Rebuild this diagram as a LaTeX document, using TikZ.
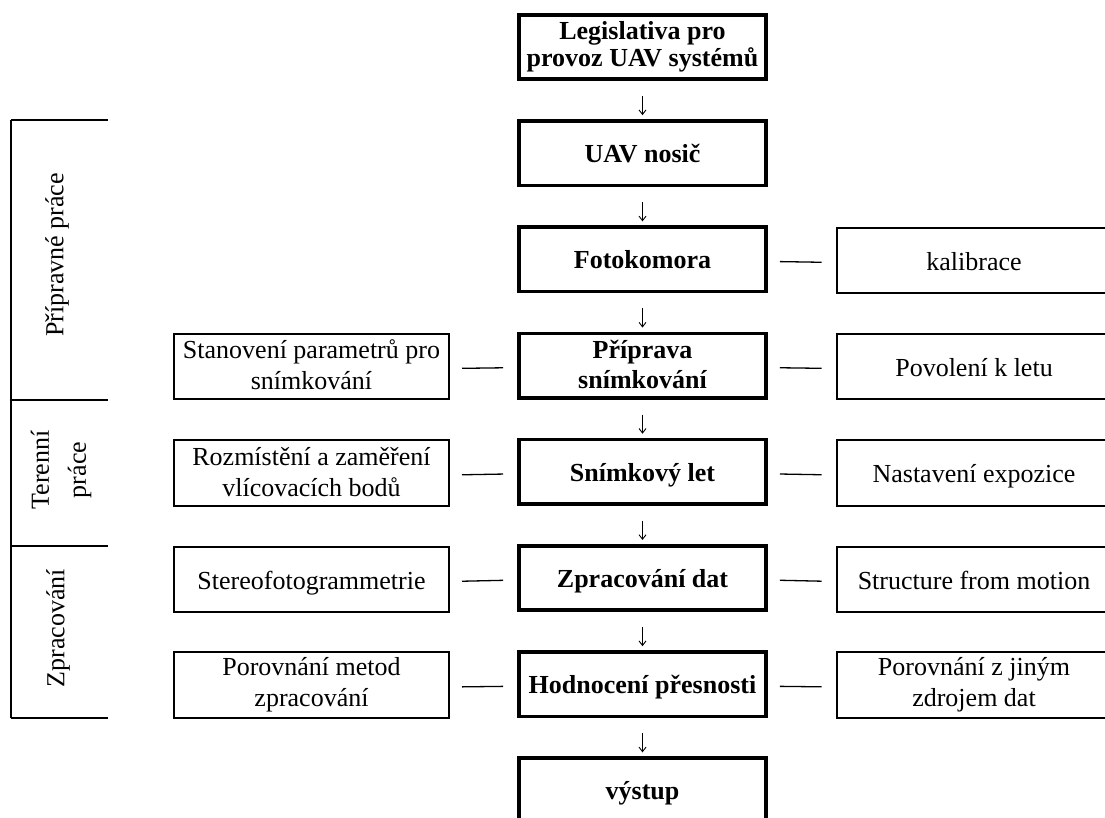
\documentclass[tikz,border=0pt]{standalone}
\usepackage{fontspec}
\setmainfont{Liberation Serif}
\usetikzlibrary{arrows.meta}
\newcommand{\onestrut}{\rule[-6pt]{0pt}{31pt}}
\newcommand{\twostrut}{\rule[-3pt]{0pt}{31pt}}
\tikzset{
  mainbox/.style={draw, line width=3.6pt, minimum width=247pt, minimum height=64.5pt, align=center, inner sep=0pt, font=\fontsize{26}{28}\selectfont\bfseries},
  sidebox/.style={draw, line width=2pt, minimum width=275pt, minimum height=65.5pt, align=center, inner sep=0pt, font=\fontsize{26}{31}\selectfont},
  oneline/.style={execute at begin node=\onestrut, execute at end node=\onestrut},
  twoline/.style={execute at begin node=\twostrut, execute at end node=\twostrut},
  flow/.style={line width=0.9pt, -{Straight Barb[length=4.5pt,width=7pt]}, shorten <=15pt, shorten >=4pt},
  conn/.style={line width=1.3pt, shorten <=12pt, shorten >=14pt, transform canvas={yshift=-2pt}},
  bracket/.style={line width=2pt},
  phase/.style={rotate=90, align=center, inner sep=0pt, font=\fontsize{26}{37}\selectfont}
}
\begin{document}
\begin{tikzpicture}[x=1pt,y=-1pt]
\useasboundingbox (0,0) rectangle (1105,818);
\clip (0,0) rectangle (1105,818);
% main column
\node[mainbox, twoline, font=\fontsize{26}{27}\selectfont\bfseries] (m1) at (642.5,47) {Legislativa pro\\provoz UAV systémů};
\node[mainbox, oneline] (m2) at (642.5,153.2) {UAV nosič};
\node[mainbox, oneline] (m3) at (642.5,259.4) {Fotokomora};
\node[mainbox, twoline, font=\fontsize{26}{30}\selectfont\bfseries] (m4) at (642.5,365.6) {Příprava\\snímkování};
\node[mainbox, oneline] (m5) at (642.5,471.8) {Snímkový let};
\node[mainbox, oneline] (m6) at (642.5,578) {Zpracování dat};
\node[mainbox, oneline] (m7) at (642.5,684.2) {Hodnocení přesnosti};
\node[mainbox, oneline] (m8) at (642.5,790.4) {výstup};
% right column
\node[sidebox, oneline] (r3) at (974,260.5) {kalibrace};
\node[sidebox, oneline] (r4) at (974,366.5) {Povolení k letu};
\node[sidebox, oneline] (r5) at (974,473) {Nastavení expozice};
\node[sidebox, oneline] (r6) at (974,579.5) {Structure from motion};
\node[sidebox, twoline] (r7) at (974,685) {Porovnání z jiným\\zdrojem dat};
% left column
\node[sidebox, twoline] (l4) at (311.5,366.5) {Stanovení parametrů pro\\snímkování};
\node[sidebox, twoline] (l5) at (311.5,473) {Rozmístění a zaměření\\vlícovacích bodů};
\node[sidebox, oneline] (l6) at (311.5,579.5) {Stereofotogrammetrie};
\node[sidebox, twoline] (l7) at (311.5,685) {Porovnání metod\\zpracování};
% flow arrows
\draw[flow] (m1.south) -- (m2.north);
\draw[flow] (m2.south) -- (m3.north);
\draw[flow] (m3.south) -- (m4.north);
\draw[flow] (m4.south) -- (m5.north);
\draw[flow] (m5.south) -- (m6.north);
\draw[flow] (m6.south) -- (m7.north);
\draw[flow] (m7.south) -- (m8.north);
% side connectors
\draw[conn] (m3.east) -- (r3.west);
\draw[conn] (m4.east) -- (r4.west);
\draw[conn] (m5.east) -- (r5.west);
\draw[conn] (m6.east) -- (r6.west);
\draw[conn] (m7.east) -- (r7.west);
\draw[conn] (l4.east) -- (m4.west);
\draw[conn] (l5.east) -- (m5.west);
\draw[conn] (l6.east) -- (m6.west);
\draw[conn] (l7.east) -- (m7.west);
% phase bracket
\coordinate (b0) at (11,120);
\coordinate (b1) at (11,400);
\coordinate (b2) at (11,545.5);
\coordinate (b3) at (11,718);
\draw[bracket] (b0) -- (b3);
\draw[bracket] (b0) -- ++(97,0);
\draw[bracket] (b1) -- ++(97,0);
\draw[bracket] (b2) -- ++(97,0);
\draw[bracket] (b3) -- ++(97,0);
\node[phase] (p1) at (57,255) {Přípravné práce};
\node[phase] (p2) at (61,470) {Terenní\\práce};
\node[phase] (p3) at (58,628) {Zpracování};
\end{tikzpicture}
\end{document}
